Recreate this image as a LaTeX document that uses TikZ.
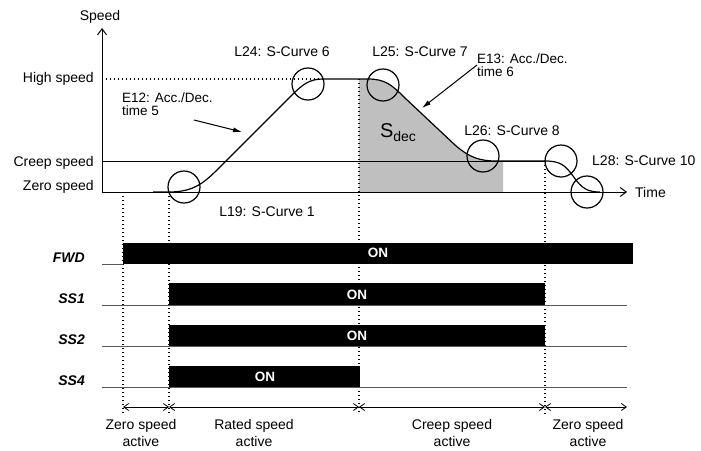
\documentclass[tikz,border=0pt]{standalone}
\usepackage{fontspec}
\setmainfont{Liberation Sans}
\usetikzlibrary{arrows.meta}
\begin{document}
\begin{tikzpicture}[x=1pt,y=-1pt,
  every node/.style={inner sep=0pt},
  txt/.style={font=\fontsize{14}{16}\selectfont},
  two/.style={font=\fontsize{13.5}{12.5}\selectfont, align=left},
  bot/.style={font=\fontsize{14}{17}\selectfont, align=center},
  sig/.style={font=\fontsize{14}{16}\selectfont\bfseries\itshape, anchor=east},
  onlbl/.style={font=\fontsize{13.5}{16}\selectfont\bfseries, text=white},
  dotv/.style={line width=1.2pt, dash pattern=on 1.2pt off 2.8pt},
  scurve/.style={line width=1.2pt},
  ring/.style={draw, line width=1.2pt, circle, minimum size=32pt},
  axis/.style={line width=1pt, -{Straight Barb[length=6pt,width=9pt]}},
  base/.style={draw=black!65, line width=1pt},
  dimline/.style={line width=0.8pt, {Straight Barb[length=5pt,width=7pt]}-{Straight Barb[length=5pt,width=7pt]}},
  pointer/.style={line width=1pt, -{Latex[length=9pt,width=5pt]}}
]
\useasboundingbox (0,0) rectangle (701,450);

% grey area S_dec
\fill[black!25] (359,192) -- (359,79) -- (368,79) .. controls (385,79) and (392,85) .. (405,98)
  -- (455,145) .. controls (470,158) and (480,161) .. (497,161) -- (503,161) -- (503,192) -- cycle;

% dotted guide lines
\draw[dotv] (102,79) -- (323,79);
\draw[dotv] (123,192) -- (123,414);
\draw[dotv] (169,192) -- (169,414);
\draw[dotv] (359,79) -- (359,414);
\draw[dotv] (545,161) -- (545,414);

% axes
\coordinate (o) at (102,192);
\coordinate (ytop) at (102,28);
\coordinate (xend) at (627,192);
\draw[axis] (o) -- (ytop);
\draw[axis] (o) -- (xend);
\draw[line width=1pt] (102,161) -- (545,161);

% speed profile
\draw[scurve] (153,192) -- (169,192) .. controls (195,192) and (205,182) .. (222,165)
  -- (292,95) .. controls (303,84) and (310,79) .. (323,79) -- (368,79)
  .. controls (385,79) and (392,85) .. (405,98) -- (455,145)
  .. controls (470,158) and (480,161) .. (497,161) -- (545,161)
  .. controls (560,161) and (565,165) .. (573,176)
  .. controls (582,189) and (588,192) .. (600,192);

% S-curve rings
\node[ring] (c19) at (184,187) {};
\node[ring] (c24) at (308,84) {};
\node[ring] (c25) at (383,85) {};
\node[ring] (c26) at (483,156) {};
\node[ring] (c28a) at (561,161) {};
\node[ring] (c28b) at (587,192) {};

% axis labels
\node[txt] (speed) at (100,17) {Speed};
\node[txt, anchor=west] (time) at (635,192) {Time};
\node[txt, anchor=east] (hs) at (94,79) {High speed};
\node[txt, anchor=east] (cs) at (94,163) {Creep speed};
\node[txt, anchor=east] (zs) at (94,187) {Zero speed};

% curve labels
\node[txt] (l24) at (282,52) {L24: S-Curve 6};
\node[txt] (l25) at (420,52) {L25: S-Curve 7};
\node[txt] (l26) at (512,131) {L26: S-Curve 8};
\node[txt, anchor=west] (l28) at (592,161) {L28: S-Curve 10};
\node[txt] (l19) at (267,212) {L19: S-Curve 1};
\node[two, anchor=north west] (e12) at (122,93) {E12: Acc./Dec.\\time 5};
\node[two, anchor=north west] (e13) at (477,54) {E13: Acc./Dec.\\time 6};
\node (sdec) at (398,133) {\fontsize{20}{20}\selectfont S\raisebox{-4pt}{\fontsize{14}{14}\selectfont dec}};

\coordinate (p12s) at (194,120);
\coordinate (p12e) at (242,132);
\coordinate (p13s) at (477,65);
\coordinate (p13e) at (422,108);
\draw[pointer] (p12s) -- (p12e);
\draw[pointer] (p13s) -- (p13e);

% timing chart
\draw[base] (102,264) -- (123,264);
\draw[base] (102,305) -- (627,305);
\draw[base] (102,346) -- (627,346);
\draw[base] (102,387) -- (627,387);
\fill (123,243) rectangle (633,264);
\fill (169,283) rectangle (545,305);
\fill (169,325) rectangle (545,346);
\fill (169,366) rectangle (360,387);

\node[sig] (fwd) at (85,258) {FWD};
\node[sig] (ss1) at (85,299) {SS1};
\node[sig] (ss2) at (85,340) {SS2};
\node[sig] (ss4) at (85,381) {SS4};

\node[onlbl] (on1) at (378,253) {ON};
\node[onlbl] (on2) at (357,295) {ON};
\node[onlbl] (on3) at (357,336) {ON};
\node[onlbl] (on4) at (265,377) {ON};

% phase dimensions
\coordinate (d1) at (123,407);
\coordinate (d2) at (169,407);
\coordinate (d3) at (359,407);
\coordinate (d4) at (545,407);
\coordinate (d5) at (627,407);
\draw[dimline] (d1) -- (d2);
\draw[dimline] (d2) -- (d3);
\draw[dimline] (d3) -- (d4);
\draw[dimline] (d4) -- (d5);

\node[bot] (a1) at (141,433) {Zero speed\\active};
\node[bot] (a2) at (254,433) {Rated speed\\active};
\node[bot] (a3) at (452,433) {Creep speed\\active};
\node[bot] (a4) at (588,433) {Zero speed\\active};
\end{tikzpicture}
\end{document}
